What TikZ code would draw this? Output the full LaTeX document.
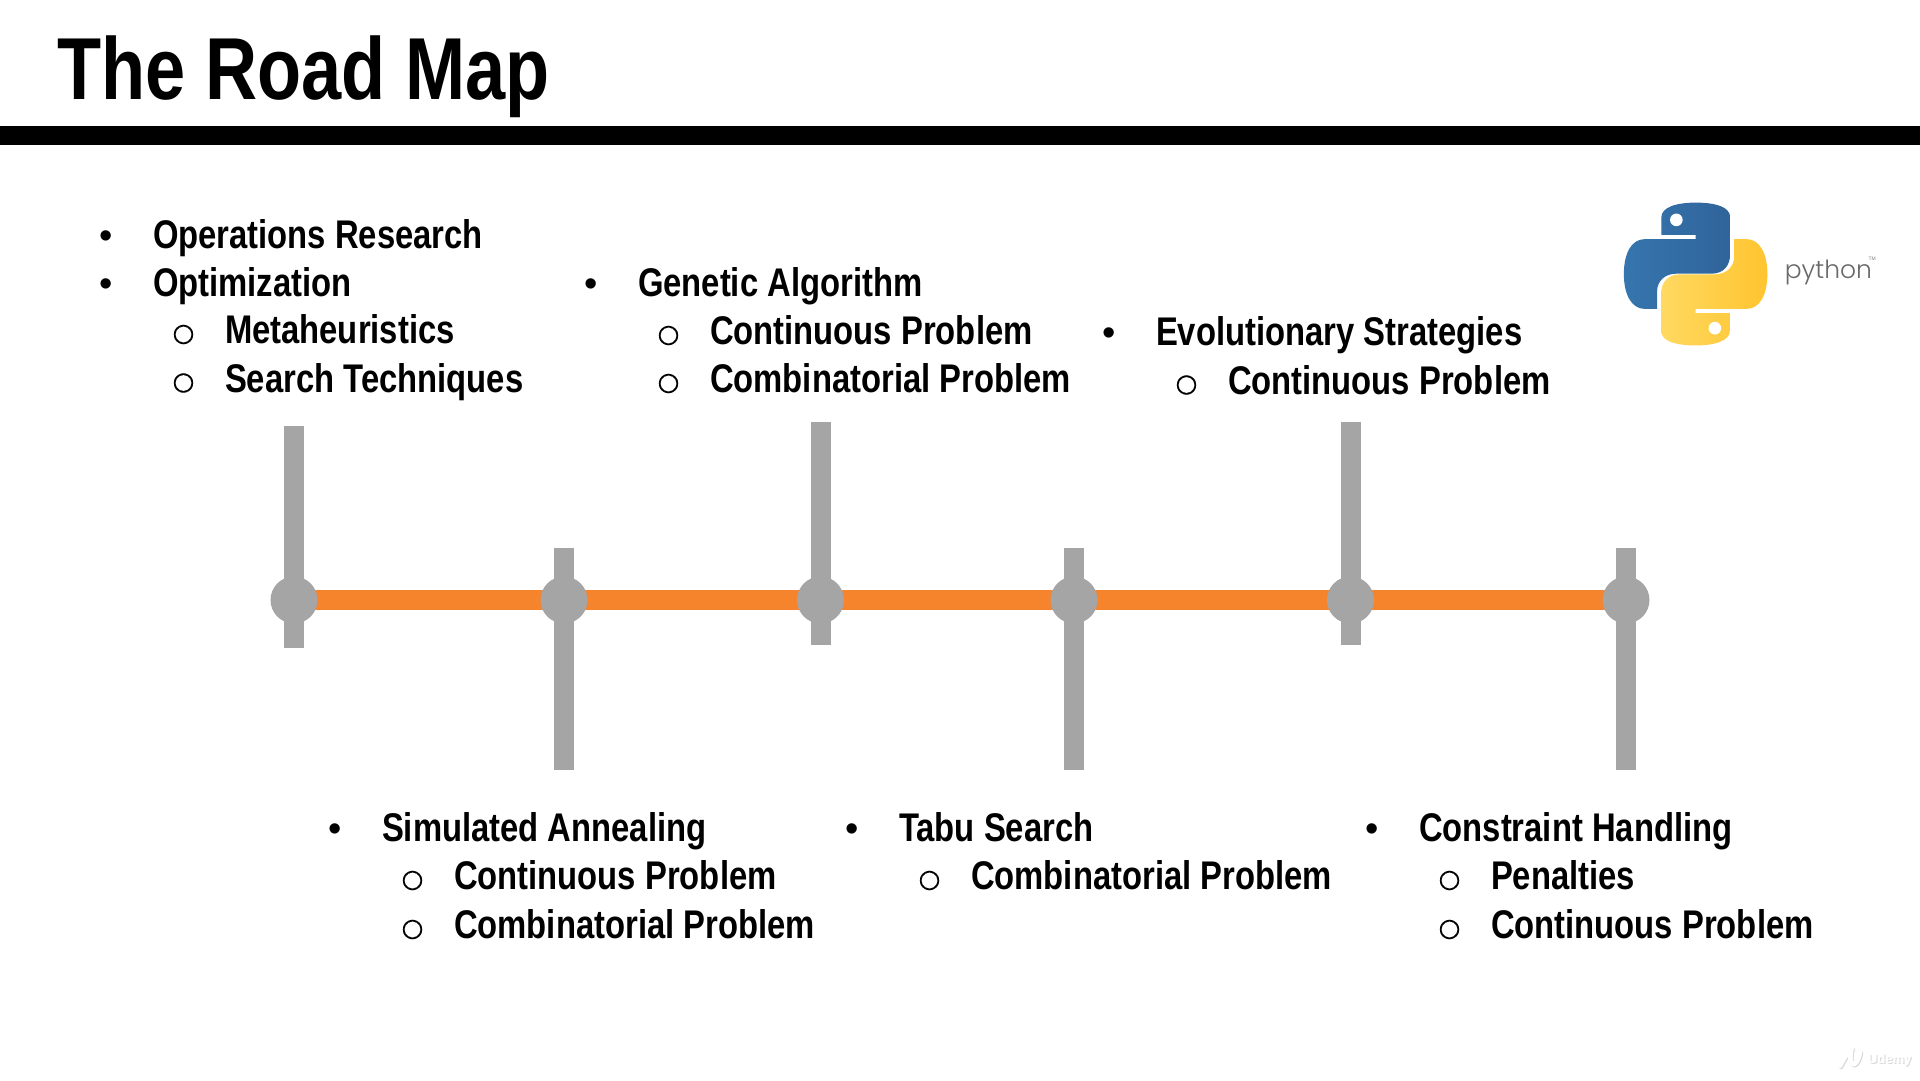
\documentclass[tikz,border=0pt]{standalone}
\usetikzlibrary{backgrounds}
\usepackage{fontspec}
\setmainfont{Liberation Sans}
\newfontfamily\narrowb[FakeStretch=0.82]{Liberation Sans Bold}
\newfontfamily\plainf{Liberation Sans}
\newfontfamily\lightf{Poppins Light}
\newfontfamily\ringf[FakeBold=0.6]{DejaVu Sans}
\definecolor{polegray}{HTML}{A5A5A5}
\definecolor{roadorange}{HTML}{F5842C}
\definecolor{pyblueA}{HTML}{3675AE}
\definecolor{pyblueB}{HTML}{30649A}
\definecolor{pyyelA}{HTML}{FFD961}
\definecolor{pyyelB}{HTML}{FFC42F}
\tikzset{
  txt/.style={inner sep=0pt,outer sep=0pt,anchor=base west,font=\narrowb\fontsize{40}{48}\selectfont,text=black},
  titletxt/.style={inner sep=0pt,outer sep=0pt,anchor=base west,font=\narrowb\fontsize{88}{100}\selectfont,text=black},
  bul/.style={inner sep=0pt,outer sep=0pt,anchor=base,font=\plainf\fontsize{38}{40}\selectfont,text=black},
  ring/.style={inner sep=0pt,outer sep=0pt,anchor=base,font=\ringf\fontsize{25}{30}\selectfont,text=black},
  hub/.style={circle,fill=polegray,draw=none,minimum size=47pt,inner sep=0pt,outer sep=0pt},
  pole/.style={draw=polegray,line width=20pt},
  road/.style={draw=roadorange,line width=20pt},
}
% #1 name, #2 text x, #3 baseline y, #4 text
\newcommand{\ltop}[4]{%
  \node[bul] (#1b) at (#2-46.5,#3) {•};
  \node[txt] (#1) at (#2,#3) {#4};}
\newcommand{\lsub}[4]{%
  \node[ring] (#1b) at (#2+30.5,#3-2.5) {○};
  \node[txt] (#1) at (#2+72,#3) {#4};}
\begin{document}
\begin{tikzpicture}[x=1pt,y=-1pt]
\useasboundingbox (0,0) rectangle (1920,1080);
% header
\node[titletxt] (title) at (57,99) {The Road Map};
\fill[black] (0,126) rectangle (1920,144.5);
% hubs
\node[hub] (h1) at (294,600) {};
\node[hub] (h2) at (564,600) {};
\node[hub] (h3) at (820.5,600) {};
\node[hub] (h4) at (1074,600) {};
\node[hub] (h5) at (1350.5,600) {};
\node[hub] (h6) at (1626,600) {};
% road, behind the hubs
\begin{pgfonlayer}{background}
\fill[white] (0,0) rectangle (1920,1080);
\draw[road] (h1.center) -- (h2.center);
\draw[road] (h2.center) -- (h3.center);
\draw[road] (h3.center) -- (h4.center);
\draw[road] (h4.center) -- (h5.center);
\draw[road] (h5.center) -- (h6.center);
\end{pgfonlayer}
% poles
\coordinate (t1) at (294,426);   \coordinate (b1) at (294,648);
\coordinate (t2) at (564,548);   \coordinate (b2) at (564,770);
\coordinate (t3) at (820.5,422); \coordinate (b3) at (820.5,645);
\coordinate (t4) at (1074,548);  \coordinate (b4) at (1074,770);
\coordinate (t5) at (1350.5,422);\coordinate (b5) at (1350.5,645);
\coordinate (t6) at (1626,548);  \coordinate (b6) at (1626,770);
\foreach \i in {1,...,6}{\draw[pole] (t\i) -- (b\i);}
% lists, top
\ltop{a1}{153}{248}{Operations Research}
\ltop{a2}{153}{296}{Optimization}
\lsub{a3}{153}{343.5}{Metaheuristics}
\lsub{a4}{153}{392}{Search Techniques}
\ltop{c1}{638}{296.5}{Genetic Algorithm}
\lsub{c2}{638}{344.5}{Continuous Problem}
\lsub{c3}{638}{392.5}{Combinatorial Problem}
\ltop{e1}{1156}{345.5}{Evolutionary Strategies}
\lsub{e2}{1156}{394}{Continuous Problem}
% lists, bottom
\ltop{s1}{382}{841.5}{Simulated Annealing}
\lsub{s2}{382}{889.5}{Continuous Problem}
\lsub{s3}{382}{938.5}{Combinatorial Problem}
\ltop{u1}{899}{841.5}{Tabu Search}
\lsub{u2}{899}{889.5}{Combinatorial Problem}
\ltop{k1}{1419}{841.5}{Constraint Handling}
\lsub{k2}{1419}{889.5}{Penalties}
\lsub{k3}{1419}{938.5}{Continuous Problem}
% python logo (coordinates in 3x crop units)
\begin{scope}[shift={(1580,180)},x=0.3322pt,y=-0.3322pt]
  \def\snake{(245,165) -- (245,112) .. controls (245,82) and (290,68) .. (348,68)
    .. controls (410,68) and (452,82) .. (452,112) -- (452,222)
    .. controls (452,260) and (430,282) .. (395,282) -- (290,282)
    .. controls (255,282) and (232,305) .. (232,335) -- (232,388) -- (195,388)
    .. controls (155,388) and (132,345) .. (132,283)
    .. controls (132,220) and (155,178) .. (195,178) -- (348,178) -- (348,165) -- cycle}
  \shade[left color=pyblueA,right color=pyblueB] \snake;
  \begin{scope}[rotate around={180:(348,283)}]
    \shade[left color=pyyelA,right color=pyyelB] \snake;
  \end{scope}
  \fill[white] (290,120) circle (19);
  \fill[white] (406,446) circle (19);
  \node[inner sep=0pt,anchor=base west,font=\lightf\fontsize{25}{30}\selectfont,text={rgb,255:red,105;green,105;blue,105}] (pytext) at (616,295) {python};
  \node[inner sep=0pt,anchor=base west,font=\plainf\fontsize{5}{6}\selectfont,text={rgb,255:red,130;green,130;blue,130}] (pytm) at (868,242) {TM};
\end{scope}
% watermark
\begin{scope}[xshift=1pt,yshift=-1pt]
  \draw[line width=4.5pt,line cap=round,draw=black!15] (1840,1066) .. controls (1844,1058) and (1848,1052) .. (1852,1049);
  \draw[line width=4.5pt,line cap=round,draw=black!15] (1851,1052) .. controls (1848,1066) and (1857,1070) .. (1860,1052);
  \node[inner sep=0pt,anchor=base west,font=\bfseries\plainf\fontsize{13}{15}\selectfont,text=black!15] (wmshadow) at (1868,1063) {Udemy};
\end{scope}
\draw[line width=4.5pt,line cap=round,draw=white] (1840,1066) .. controls (1844,1058) and (1848,1052) .. (1852,1049);
\draw[line width=4.5pt,line cap=round,draw=white] (1851,1052) .. controls (1848,1066) and (1857,1070) .. (1860,1052);
\node[inner sep=0pt,anchor=base west,font=\bfseries\plainf\fontsize{13}{15}\selectfont,text=white] (wm) at (1868,1063) {Udemy};
\end{tikzpicture}
\end{document}
